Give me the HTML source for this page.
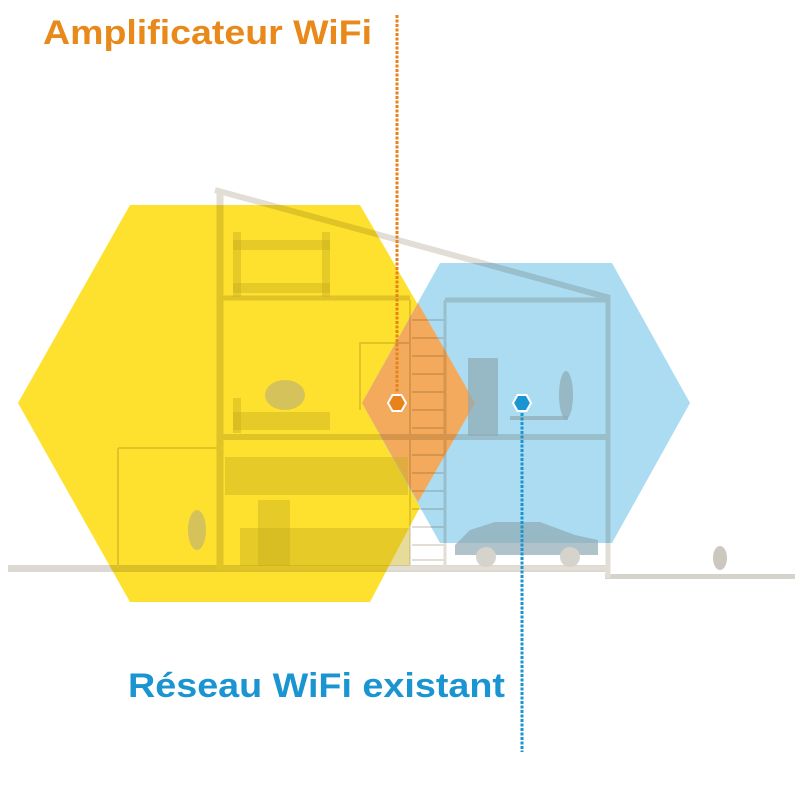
<!DOCTYPE html>
<html><head><meta charset="utf-8"><style>html,body{margin:0;padding:0;background:#fff}svg{display:block}.m{mix-blend-mode:multiply}</style></head>
<body>
<svg width="800" height="812" viewBox="0 0 800 812" xmlns="http://www.w3.org/2000/svg">
<rect width="800" height="812" fill="#fff"/>
<polygon points="18,403 130,205 360,205 475,403 370,602 130,602" fill="#fde12e"/>
<polygon points="362,403 440,263 612,263 690,403 612,543 440,543" fill="#acdcf2"/>
<polygon points="362,403 418,303 475,403 418,502" fill="#f3aa5c"/>
<g class="m">
<rect x="8" y="565" width="600" height="7" fill="#dcd9d3"/>
<rect x="605" y="574" width="190" height="5" fill="#d6d3cd"/>
<g fill="none" stroke="#e2ded6">
<polyline points="215,190 610,298" stroke-width="6"/>
<line x1="220" y1="190" x2="220" y2="570" stroke-width="7"/>
<line x1="608" y1="298" x2="608" y2="578" stroke-width="5"/>
<line x1="220" y1="298" x2="410" y2="298" stroke-width="5"/>
<line x1="445" y1="300" x2="608" y2="300" stroke-width="5"/>
<line x1="220" y1="437" x2="608" y2="437" stroke-width="6"/>
<line x1="220" y1="568" x2="608" y2="568" stroke-width="4"/>
<line x1="410" y1="300" x2="410" y2="568" stroke-width="2"/>
<line x1="445" y1="300" x2="445" y2="568" stroke-width="3"/>
<line x1="118" y1="448" x2="218" y2="448" stroke-width="2"/>
<line x1="118" y1="448" x2="118" y2="568" stroke-width="2"/>
<polyline points="360,410 360,343 410,343" stroke-width="2"/>
</g>
<g stroke="#e2ded6" stroke-width="2">
<line x1="412" y1="320" x2="444" y2="320"/><line x1="412" y1="338" x2="444" y2="338"/>
<line x1="412" y1="356" x2="444" y2="356"/><line x1="412" y1="374" x2="444" y2="374"/>
<line x1="412" y1="392" x2="444" y2="392"/><line x1="412" y1="410" x2="444" y2="410"/>
<line x1="412" y1="428" x2="444" y2="428"/><line x1="412" y1="455" x2="444" y2="455"/>
<line x1="412" y1="473" x2="444" y2="473"/><line x1="412" y1="491" x2="444" y2="491"/>
<line x1="412" y1="509" x2="444" y2="509"/><line x1="412" y1="527" x2="444" y2="527"/>
<line x1="412" y1="545" x2="444" y2="545"/><line x1="412" y1="560" x2="444" y2="560"/>
</g>
</g>
<g fill="#c9b020" fill-opacity="0.45">
<rect x="233" y="232" width="8" height="65"/><rect x="322" y="232" width="8" height="65"/>
<rect x="233" y="240" width="97" height="10"/><rect x="233" y="283" width="97" height="10"/>
<rect x="233" y="398" width="8" height="35"/><rect x="233" y="412" width="97" height="18"/>
<rect x="225" y="457" width="183" height="38"/>
<rect x="258" y="500" width="32" height="66"/><rect x="240" y="528" width="170" height="38"/>
</g>
<g fill="#8fa9b4" fill-opacity="0.7">
<path d="M455,545 L470,530 L495,522 L540,522 L575,535 L598,540 L598,555 L455,555 Z"/>
<rect x="468" y="358" width="30" height="78"/>
<rect x="510" y="416" width="58" height="4"/>
<ellipse cx="566" cy="395" rx="7" ry="24"/>
</g>
<g fill="#d6d3cd"><circle cx="486" cy="557" r="10"/><circle cx="570" cy="557" r="10"/></g>
<g fill="#b4aa80" fill-opacity="0.55">
<ellipse cx="197" cy="530" rx="9" ry="20"/><ellipse cx="285" cy="395" rx="20" ry="15"/>
</g>
<g fill="#ccc7bf"><ellipse cx="720" cy="558" rx="7" ry="12"/></g>
<line x1="397" y1="15" x2="397" y2="392" stroke="#e8821a" stroke-width="3" stroke-dasharray="3,1.5"/>
<line x1="522" y1="413" x2="522" y2="752" stroke="#1a95d2" stroke-width="3" stroke-dasharray="3,1.5"/>
<polygon points="388,403 392.5,395 401.5,395 406,403 401.5,411 392.5,411" fill="#e8821a" stroke="#fff" stroke-width="2"/>
<polygon points="513,403 517.5,395 526.5,395 531,403 526.5,411 517.5,411" fill="#1a95d2" stroke="#fff" stroke-width="2"/>
<text x="43" y="44" font-family="Liberation Sans, sans-serif" font-weight="bold" font-size="34" fill="#e8891a" textLength="329" lengthAdjust="spacingAndGlyphs">Amplificateur WiFi</text>
<text x="128" y="697" font-family="Liberation Sans, sans-serif" font-weight="bold" font-size="34" fill="#1a95d2" textLength="377" lengthAdjust="spacingAndGlyphs">Réseau WiFi existant</text>
</svg>
</body></html>
